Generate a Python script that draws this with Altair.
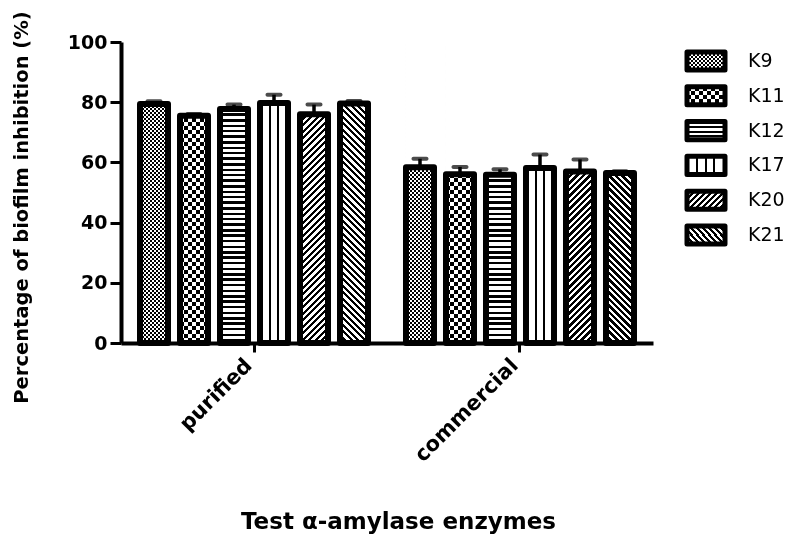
import altair as alt
import pandas as pd

# ---------------- data ----------------
groups = ["purified", "commercial"]
keys = ["K9", "K11", "K12", "K17", "K20", "K21"]
purified_mean = [79.4, 75.5, 77.7, 79.7, 76.0, 79.6]
purified_err = [0.9, 0.6, 1.5, 2.8, 3.2, 0.8]
commercial_mean = [58.4, 56.1, 55.9, 58.1, 57.0, 56.5]
commercial_err = [2.8, 2.4, 1.8, 4.5, 4.0, 0.6]

rows = []
for g, means, errs in [("purified", purified_mean, purified_err),
                       ("commercial", commercial_mean, commercial_err)]:
    for k, m, e in zip(keys, means, errs):
        rows.append({"group": g, "key": k, "value": m, "upper": m + e})
df = pd.DataFrame(rows)
legend_df = pd.DataFrame({"key": keys})

# ---------------- geometry / style ----------------
W, H = 532, 301
BAR_W = 28          # xOffset bandwidth (40 px step, paddingInner 0.3)
LEG_W, LEG_H = 38, 18
FONT = "DejaVu Sans"
BLACK, WHITE = "#000000", "#ffffff"


def stripe_stops(L, period, a, c1, c2):
    stops = []
    pos = 0.0
    while pos < L - 1e-9:
        e1 = min(pos + a, L)
        stops += [(pos / L, c1), (e1 / L, c1)]
        e2 = min(pos + period, L)
        if e1 < L:
            stops += [(e1 / L, c2), (e2 / L, c2)]
        pos += period
    return stops


def grad(stops, x1, y1, x2, y2):
    return alt.LinearGradient(
        gradient="linear",
        stops=[alt.GradientStop(color=c, offset=round(min(max(o, 0), 1), 5)) for o, c in stops],
        x1=x1, y1=y1, x2=x2, y2=y2)


def hgrad(h, period, a, c1, c2):
    return grad(stripe_stops(h, period, a, c1, c2), 0, 0, 0, 1)


def vgrad(w, period, a, c1, c2):
    return grad(stripe_stops(w, period, a, c1, c2), 0, 0, 1, 0)


def vlines(w, lines):
    stops = []
    prev = 0.0
    for a, b in lines:
        stops += [(prev / w, WHITE), (a / w, WHITE), (a / w, BLACK), (b / w, BLACK)]
        prev = b
    stops += [(prev / w, WHITE), (1.0, WHITE)]
    return grad(stops, 0, 0, 1, 0)


def diag(w, h, P, direction):
    k = h / w
    s = (1 + k) / (1 + k * k)
    stops = stripe_stops(w + h, P, P / 2, BLACK, WHITE)
    if direction == "/":
        return grad(stops, 0, 0, s, s * k)
    return grad(stops, 0, 1, s, 1 - s * k)


def patterns(key, w, h, legend=False):
    if key == "K9":
        return [(hgrad(h, 4, 2, WHITE, BLACK), None), (vgrad(w, 4, 2, WHITE, BLACK), "difference")]
    if key == "K11":
        return [(hgrad(h, 8, 4, WHITE, BLACK), None), (vgrad(w, 8, 4, WHITE, BLACK), "difference")]
    if key == "K12":
        return [(hgrad(h, 5.5 if not legend else 4.5, 2.5 if not legend else 2, BLACK, WHITE), None)]
    if key == "K17":
        if legend:
            return [(vlines(w, [(9, 11), (17.5, 19.5), (26, 28)]), None)]
        return [(vlines(w, [(9, 11), (17, 19)]), None)]
    if key == "K20":
        return [(diag(w, h, 6.5 if not legend else 6, "/"), None)]
    return [(diag(w, h, 6.5 if not legend else 6, "\\"), None)]


# ---------------- scales / axes ----------------
xscale = alt.Scale(domain=groups, paddingInner=0.0977, paddingOuter=0.0489)
xoscale = alt.Scale(domain=keys, paddingInner=0.3, paddingOuter=0.15)
yscale = alt.Scale(domain=[0, 100], nice=False, zero=True)

xaxis = alt.Axis(labelAngle=315, labelAlign="right", labelBaseline="middle",
                 labelPadding=10, labelOffset=-5, labelFontSize=21, tickSize=9,
                 titleX=277, titleY=185,
                 titleBaseline="alphabetic", titleAlign="center", titleFontSize=23)
yaxis = alt.Axis(values=[0, 20, 40, 60, 80, 100], tickSize=11, labelPadding=3,
                 titleAngle=270, titleX=-100, titleY=165, titleAlign="center",
                 titleBaseline="middle", titleFontSize=19.5)

XT = "Test \u03b1-amylase enzymes"
YT = "Percentage of biofilm inhibition (%)"
X = alt.X("group:N", scale=xscale, axis=xaxis, title=XT, sort=groups)
XO = alt.XOffset("key:N", scale=xoscale, sort=keys)

base = alt.Chart(df)
main_layers = []
for k in keys:
    for g, blend in patterns(k, BAR_W, H):
        kw = dict(fill=g, strokeWidth=0)
        if blend:
            kw["blend"] = blend
        main_layers.append(
            base.transform_filter(alt.datum.key == k).mark_bar(**kw).encode(
                x=X, xOffset=XO,
                y=alt.YDatum(100, scale=yscale, axis=yaxis, title=YT),
                y2=alt.Y2Datum(0)))

mask = base.mark_bar(fill=WHITE, stroke=WHITE, strokeWidth=1.5).encode(
    x=X, xOffset=XO,
    y=alt.Y("value:Q", scale=yscale, axis=yaxis, title=YT),
    y2=alt.Y2Datum(100))
outline = base.mark_bar(fillOpacity=0, stroke=BLACK, strokeWidth=6, strokeJoin="round").encode(
    x=X, xOffset=XO,
    y=alt.Y("value:Q", scale=yscale, axis=yaxis, title=YT),
    y2=alt.Y2Datum(0))
err = base.mark_rule(color=BLACK, strokeWidth=3.5).encode(
    x=X, xOffset=XO,
    y=alt.Y("value:Q", scale=yscale, axis=yaxis, title=YT),
    y2="upper:Q")
cap = base.mark_tick(color=BLACK, thickness=4, size=17, cornerRadius=2).encode(
    x=X, xOffset=XO,
    y=alt.Y("upper:Q", scale=yscale, axis=yaxis, title=YT))

main = alt.layer(*main_layers, mask, outline, err, cap)

# ---------------- legend (drawn with a band scale on key) ----------------
lscale = alt.Scale(domain=keys, range=[1.6, 210.4], paddingInner=0.48, paddingOuter=0.24)
LY = alt.Y("key:N", scale=lscale, axis=None, sort=keys)
lbase = alt.Chart(legend_df)
leg_layers = []
for k in keys:
    for g, blend in patterns(k, LEG_W, LEG_H, legend=True):
        kw = dict(fill=g, strokeWidth=0)
        if blend:
            kw["blend"] = blend
        leg_layers.append(
            lbase.transform_filter(alt.datum.key == k).mark_rect(**kw).encode(
                y=LY, x=alt.value(566), x2=alt.value(604)))
leg_outline = lbase.mark_rect(fillOpacity=0, stroke=BLACK, strokeWidth=5, strokeJoin="round").encode(
    y=LY, x=alt.value(566), x2=alt.value(604))
leg_text = lbase.mark_text(align="left", baseline="middle", font=FONT, fontSize=19,
                           color=BLACK).encode(y=LY, x=alt.value(627), text="key:N")
legend = alt.layer(*leg_layers, leg_outline, leg_text)

chart = alt.layer(main, legend).resolve_scale(y="independent").properties(
    width=W, height=H,
    autosize=alt.AutoSizeParams(type="none"),
    padding={"left": 113, "top": 34, "right": 136, "bottom": 192},
).configure_view(stroke=None).configure_axis(
    grid=False, domainColor=BLACK, domainWidth=4, tickColor=BLACK, tickWidth=3,
    labelFont=FONT, labelFontWeight="bold", labelFontSize=19, labelColor=BLACK,
    titleFont=FONT, titleFontWeight="bold", titleColor=BLACK,
)

chart.save("out.html", embed_options={"renderer": "svg", "actions": False})
